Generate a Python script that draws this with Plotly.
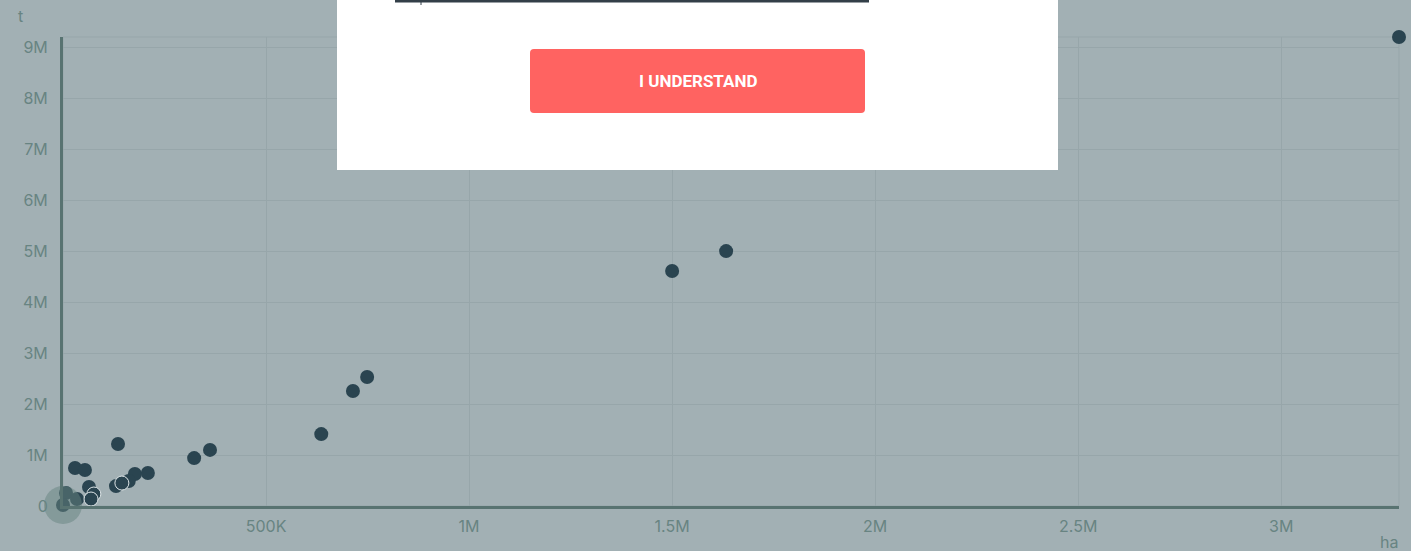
import plotly.graph_objects as go

# ---- data ----
area_ha = [3290000, 1633000, 1500000, 749000, 714000, 636000, 362000, 323000,
           209000, 177000, 135500, 162000, 130500, 29600, 54000, 64000,
           7400, 34500, 0]
prod_t = [9200000, 5000000, 4610000, 2530000, 2255000, 1410000, 1100000, 940000,
          647000, 627000, 1216000, 490000, 390000, 745000, 706000, 373000,
          255000, 137000, 20000]
# points drawn with a light outline
area_ha_outlined = [76000, 69000, 145000]
prod_t_outlined = [235000, 137000, 450000]
highlight_index = 18

x_tickvals = [500000, 1000000, 1500000, 2000000, 2500000, 3000000]
x_ticktext = ["500K", "1M", "1.5M", "2M", "2.5M", "3M"]
y_tickvals = [0, 1e6, 2e6, 3e6, 4e6, 5e6, 6e6, 7e6, 8e6, 9e6]
y_ticktext = ["0", "1M", "2M", "3M", "4M", "5M", "6M", "7M", "8M", "9M"]

BG = "#a2b0b4"
GRID = "#97a6aa"
AXIS = "#587371"
TICK = "#688482"
DOT = "#2a4450"

W, H = 1411, 551
# plot area in screen pixels
SL, SR, ST, SB = 63, 1399, 37, 506
L, T, R, B = SL, ST, W - SR, H - SB
PW, PH = SR - SL, SB - ST


def px(x):
    return (x - SL) / PW


def py(y):
    return (SB - y) / PH


fig = go.Figure()
fig.add_trace(go.Scatter(x=area_ha, y=prod_t, mode="markers",
                         marker=dict(size=14, color=DOT, line=dict(width=0)),
                         cliponaxis=False, hoverinfo="skip"))
fig.add_trace(go.Scatter(x=area_ha_outlined, y=prod_t_outlined, mode="markers",
                         marker=dict(size=14, color=DOT, line=dict(width=1, color="#dfe6e8")),
                         cliponaxis=False, hoverinfo="skip"))
fig.add_trace(go.Scatter(x=[area_ha[highlight_index]], y=[prod_t[highlight_index]], mode="markers",
                         marker=dict(size=38, color="#668480", opacity=0.5, line=dict(width=0)),
                         cliponaxis=False, hoverinfo="skip"))

shapes = []
shapes.append(dict(type="rect", xref="paper", yref="paper", x0=0, x1=1, y0=0, y1=1,
                   line=dict(color=GRID, width=1), layer="below"))


def rounded(x0, x1, y0, y1, r):
    rx, ry = r / PW, r / PH
    X0, X1, Y0, Y1 = px(x0), px(x1), py(y1), py(y0)
    return (f"M {X0+rx},{Y0} L {X1-rx},{Y0} Q {X1},{Y0} {X1},{Y0+ry} "
            f"L {X1},{Y1-ry} Q {X1},{Y1} {X1-rx},{Y1} L {X0+rx},{Y1} "
            f"Q {X0},{Y1} {X0},{Y1-ry} L {X0},{Y0+ry} Q {X0},{Y0} {X0+rx},{Y0} Z")


shapes.append(dict(type="rect", xref="paper", yref="paper",
                   x0=px(337), x1=px(1058), y0=py(170), y1=py(-10),
                   fillcolor="white", line=dict(width=0), layer="above"))
shapes.append(dict(type="line", xref="paper", yref="paper",
                   x0=px(395), x1=px(869), y0=py(1), y1=py(1),
                   line=dict(color="#333f48", width=3), layer="above"))
shapes.append(dict(type="line", xref="paper", yref="paper",
                   x0=px(421), x1=px(421), y0=py(2), y1=py(5),
                   line=dict(color="#333f48", width=1), layer="above"))
shapes.append(dict(type="path", xref="paper", yref="paper",
                   path=rounded(530, 865, 49, 113, 4),
                   fillcolor="#ff6361", line=dict(width=0), layer="above"))

annotations = [
    dict(text="t", xref="paper", yref="paper", x=px(20), y=py(16), showarrow=False,
         xanchor="center", yanchor="middle",
         font=dict(family="Inter", size=16, color=TICK)),
    dict(text="ha", xref="paper", yref="paper", x=px(1389), y=py(542), showarrow=False,
         xanchor="center", yanchor="middle",
         font=dict(family="Inter", size=16, color=TICK)),
    dict(text="<b>I UNDERSTAND</b>", xref="paper", yref="paper", x=px(697.5), y=py(81),
         showarrow=False, xanchor="center", yanchor="middle",
         font=dict(family="Roboto", size=17, color="white")),
]

fig.update_layout(
    width=W, height=H,
    margin=dict(l=L, r=R, t=T, b=B),
    paper_bgcolor=BG, plot_bgcolor=BG,
    showlegend=False,
    hovermode=False,
    shapes=shapes,
    annotations=annotations,
    font=dict(family="Inter", size=16, color=TICK),
    xaxis=dict(range=[0, 3290000], tickvals=x_tickvals, ticktext=x_ticktext,
               showgrid=True, gridcolor=GRID, gridwidth=1, zeroline=False,
               showline=True, linecolor=AXIS, linewidth=3, ticks="", ticklen=0,
               ticklabelstandoff=4,
               tickfont=dict(family="Inter", size=16, color=TICK), fixedrange=True),
    yaxis=dict(range=[0, 9200000], tickvals=y_tickvals, ticktext=y_ticktext,
               showgrid=True, gridcolor=GRID, gridwidth=1, zeroline=False,
               showline=True, linecolor=AXIS, linewidth=3, ticks="", ticklen=0,
               ticklabelstandoff=9,
               tickfont=dict(family="Inter", size=16, color=TICK), fixedrange=True),
)

# remove the default page margin so the figure fills the window
fig.write_html("out.html",
               config={"displayModeBar": False, "staticPlot": True},
               post_script="document.body.style.margin='0';document.body.style.overflow='hidden';")
